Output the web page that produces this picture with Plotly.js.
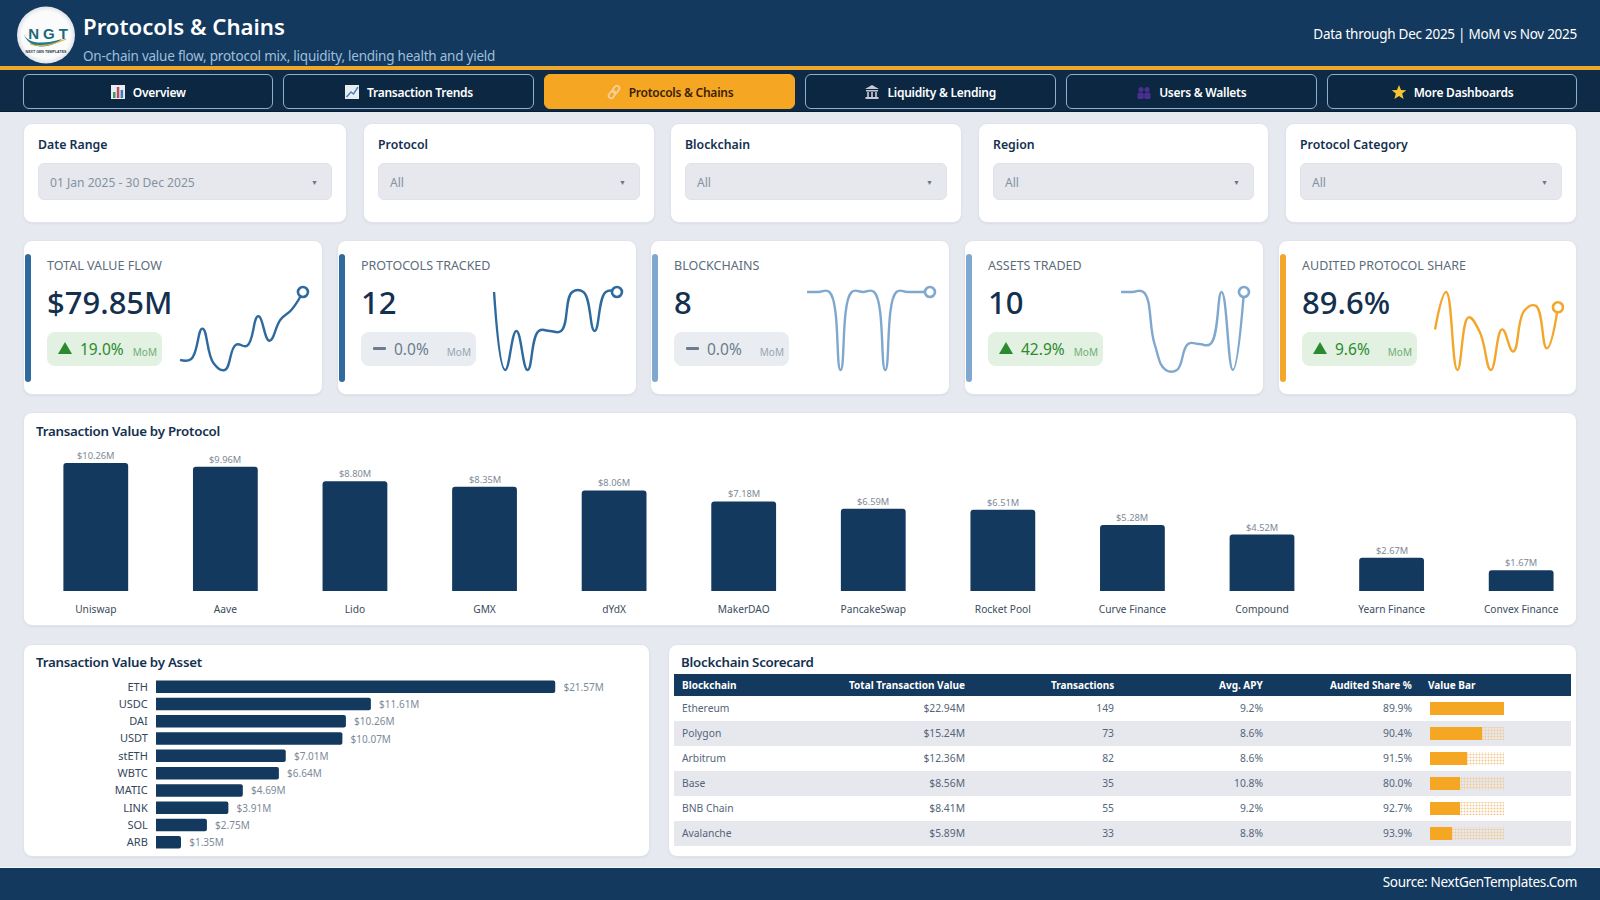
<!DOCTYPE html>
<html><head><meta charset="utf-8">
<script src="https://cdn.plot.ly/plotly-3.0.1.min.js"></script>
<style>
*{box-sizing:border-box}
html,body{margin:0;padding:0;width:1600px;height:900px;overflow:hidden;background:#e6e9ef;font-family:"Noto Sans",sans-serif;color:#14304f}
.abs{position:absolute}
.card{position:absolute;background:#fff;border-radius:9px;border:1px solid #e0e4ea;box-shadow:0 1px 2px rgba(20,50,80,.06)}
.nav{position:absolute;top:74px;height:35px;border:1.5px solid #8fb0cf;border-radius:6px;background:#0c2742;color:#fff;font-size:12px;letter-spacing:-.25px;font-weight:600;display:flex;align-items:center;justify-content:center;gap:7px;padding-top:1px}
.nav.on{background:#f5a623;border-color:#f5a623;color:#3a2208}
.nav svg{width:16px;height:16px}
.flab{position:absolute;font-size:12.3px;font-weight:600;left:14px;top:12px;color:#14304f}
.sel{position:absolute;left:14px;right:14px;top:39px;height:37px;background:#e6e8ee;border:1px solid #dfe2e8;border-radius:6px;color:#8592a0;font-size:12.1px;line-height:37px;padding-left:11px}
.sel i{position:absolute;right:13px;top:0;font-style:normal;font-size:7px;color:#6a7785}
.ctitle{position:absolute;font-size:13.3px;letter-spacing:-.25px;font-weight:600;color:#14304f;white-space:nowrap}
.klab{position:absolute;left:23px;top:16px;font-size:12.5px;color:#5d6c7b;white-space:nowrap}
.kval{position:absolute;left:23px;top:37px;font-size:31px;font-weight:500;color:#14304f;white-space:nowrap;line-height:48px}
.pill{position:absolute;left:23px;top:91px;width:115px;height:34px;border-radius:8px}
.pill .tri{position:absolute;left:11px;top:10px;width:0;height:0;border-left:7.5px solid transparent;border-right:7.5px solid transparent;border-bottom:12px solid #2c8a2e}
.pill .dash{position:absolute;left:12px;top:15px;width:13px;height:3px;background:#6c7c8c;border-radius:1px}
.pill .pct{position:absolute;left:33px;top:5px;font-size:15.5px;line-height:24px;white-space:nowrap}
.pill .mom{position:absolute;right:5px;top:13px;font-size:10px;line-height:14px}
.plot{position:absolute}
</style></head><body>
<div class="abs" style="left:0;top:0;width:1600px;height:67px;background:#14395e"></div>
<div class="abs" style="left:0;top:66px;width:1600px;height:4px;background:#eda72c"></div>
<div class="abs" style="left:0;top:70px;width:1600px;height:42px;background:#0e2a46;border-bottom:1px solid #0a1d30"></div>
<svg class="abs" style="left:16px;top:6px" width="60" height="58" viewBox="0 0 60 58">
<defs><radialGradient id="lg" cx=".5" cy=".5" r=".55"><stop offset=".75" stop-color="#fbfbfb"/><stop offset="1" stop-color="#cfd5dc"/></radialGradient></defs>
<ellipse cx="30" cy="29" rx="29" ry="28.5" fill="url(#lg)"/>
<text x="34" y="33" text-anchor="middle" font-size="15" font-weight="800" font-family="Liberation Sans" letter-spacing="4" fill="#1a6a7a">NGT</text>
<path d="M7 26 C10 38 26 39 46 33 C34 43 12 45 7 26Z" fill="#1b7f8c"/><path d="M14 38 C26 42 38 38 50 33" stroke="#e4ac3b" stroke-width="1.2" fill="none"/>
<text x="30" y="47" text-anchor="middle" font-size="3.6" font-weight="700" font-family="Liberation Sans" fill="#2a3a4a">NEXT GEN TEMPLATES</text></svg>
<div class="abs" style="left:83px;top:8px;font-size:22.2px;font-weight:600;color:#fff;white-space:nowrap;line-height:38px">Protocols &amp; Chains</div>
<div class="abs" style="left:83px;top:46px;font-size:13.5px;letter-spacing:-.23px;color:#9cbfdc;white-space:nowrap;line-height:20px">On-chain value flow, protocol mix, liquidity, lending health and yield</div>
<div class="abs" style="right:23px;top:23px;font-size:13.5px;letter-spacing:-.26px;color:#fff;white-space:nowrap;line-height:22px">Data through Dec 2025 | MoM vs Nov 2025</div>
<div id="navs"></div><div id="filters"></div><div id="kpis"></div>
<div class="card" style="left:23px;top:412px;width:1554px;height:214px"></div>
<div class="ctitle" style="left:36px;top:422px">Transaction Value by Protocol</div>
<div class="plot" id="protocolChart" style="left:24px;top:436px;width:1552px;height:188px"></div>
<div class="card" style="left:23px;top:644px;width:627px;height:213px"></div>
<div class="ctitle" style="left:36px;top:653px">Transaction Value by Asset</div>
<div class="plot" id="assetChart" style="left:25px;top:670px;width:622px;height:186px"></div>
<div class="card" style="left:668px;top:644px;width:909px;height:213px"></div>
<div class="ctitle" style="left:681px;top:653px">Blockchain Scorecard</div>
<div class="plot" id="scoreTable" style="left:674px;top:674px;width:897px;height:173px"></div>
<div class="plot" id="valueBars" style="left:1430px;top:696px;width:75px;height:150px"></div>
<div class="abs" style="left:0;top:867px;width:1600px;height:33px;background:#14395e;border-top:1px solid #f4f6f8"></div>
<div class="abs" style="right:23px;top:870px;font-size:13.5px;letter-spacing:-.32px;color:#fff;line-height:24px;white-space:nowrap">Source: NextGenTemplates.Com</div>
<script>
// ---- chart data ----
const navLabels=["Overview","Transaction Trends","Protocols & Chains","Liquidity & Lending","Users & Wallets","More Dashboards"];
const filterLabels=["Date Range","Protocol","Blockchain","Region","Protocol Category"];
const filterValues=["01 Jan 2025 - 30 Dec 2025","All","All","All","All"];
const kpiLabels=["TOTAL VALUE FLOW","PROTOCOLS TRACKED","BLOCKCHAINS","ASSETS TRADED","AUDITED PROTOCOL SHARE"];
const kpiValues=["$79.85M","12","8","10","89.6%"];
const kpiDeltas=["19.0%","0.0%","0.0%","42.9%","9.6%"];
const sparkValue=[4.32,4.42,7.57,3.97,3.27,5.89,5.79,8.86,6.31,8.51,9.56,11.37];
const sparkProtocols=[12,8,10,8,10,10,10,12,12,10,12,12];
const sparkChains=[8,8,8,7,8,8,8,7,8,8,8,8];
const sparkAssets=[10,10,10,8,7,7,8,8,8,10,7,10];
const sparkAudited=[85.4,92.5,77.7,87.7,84.9,77.7,85.4,81.2,89.0,89.9,81.8,89.6];
const protocols=["Uniswap","Aave","Lido","GMX","dYdX","MakerDAO","PancakeSwap","Rocket Pool","Curve Finance","Compound","Yearn Finance","Convex Finance"];
const protocolValues=[10.26,9.96,8.80,8.35,8.06,7.18,6.59,6.51,5.28,4.52,2.67,1.67];
const assets=["ETH","USDC","DAI","USDT","stETH","WBTC","MATIC","LINK","SOL","ARB"];
const assetValues=[21.57,11.61,10.26,10.07,7.01,6.64,4.69,3.91,2.75,1.35];
const tableHeaders=["Blockchain","Total Transaction Value","Transactions","Avg. APY","Audited Share %","Value Bar"];
const chains=["Ethereum","Polygon","Arbitrum","Base","BNB Chain","Avalanche"];
const chainValues=[22.94,15.24,12.36,8.56,8.41,5.89];
const chainTx=[149,73,82,35,55,33];
const chainApy=[9.2,8.6,8.6,10.8,9.2,8.8];
const chainAudited=[89.9,90.4,91.5,80.0,92.7,93.9];
const valueBarFill=[100,70,50,40,40,30];
// ---- styling ----
const FONT='"Noto Sans",sans-serif',NAVY='#14395e',GOLD='#f5a623',BLUE='#2e6a9e',LIGHT='#7fa8cf';
const money=v=>'$'+v.toFixed(2)+'M';
const cfg={staticPlot:true,displayModeBar:false};
const icons=[
'<rect x="1" y="1" width="14" height="14" fill="#e8edf2"/><rect x="3" y="8" width="2.5" height="6" fill="#3c9a5f"/><rect x="6.8" y="3" width="2.5" height="11" fill="#c8455a"/><rect x="10.6" y="6" width="2.5" height="8" fill="#3a7cc0"/>',
'<rect x="1" y="1" width="14" height="14" fill="#e8edf2"/><path d="M2.5 13 L7 8 L9.5 10 L14 3" stroke="#4a7fc0" stroke-width="1.4" fill="none"/>',
'<g fill="none" stroke="#f6cf9a" stroke-width="1.8"><rect x="7.5" y="1.5" width="5" height="8" rx="2.5" transform="rotate(35 10 5.5)"/><rect x="3.5" y="6.5" width="5" height="8" rx="2.5" transform="rotate(35 6 10.5)"/></g>',
'<path d="M8 1 L15 5 H1Z M2 6H14V7.5H2Z M1.5 13H14.5V15H1.5Z" fill="#c5cad3"/><rect x="3" y="8" width="2" height="5" fill="#aab"/><rect x="7" y="8" width="2" height="5" fill="#aab"/><rect x="11" y="8" width="2" height="5" fill="#aab"/>',
'<g fill="#4a2f8f"><circle cx="5" cy="5.5" r="2.6"/><circle cx="11" cy="5.5" r="2.6"/><rect x="1.5" y="8.5" width="6.2" height="6.5" rx="1.5"/><rect x="8.3" y="8.5" width="6.2" height="6.5" rx="1.5"/></g>',
'<path d="M8 1 L10 6 L15.3 6.3 L11.2 9.6 L12.6 15 L8 12 L3.4 15 L4.8 9.6 L0.7 6.3 L6 6Z" fill="#f7c531"/>'];
const navX=[22.5,283,544,805,1066,1327];
document.getElementById('navs').innerHTML=navLabels.map((t,i)=>`<div class="nav${i==2?' on':''}" style="left:${navX[i]}px;width:${i==0||i==3||i==4?250.5:i==5?250:251}px"><svg viewBox="0 0 16 16">${icons[i]}</svg><span>${t.replace('&','&amp;')}</span></div>`).join('');
const fBox=[[23,324],[363,292],[670,292],[978,291],[1285,292]];
document.getElementById('filters').innerHTML=filterLabels.map((t,i)=>`<div class="card" style="left:${fBox[i][0]}px;top:123px;width:${fBox[i][1]}px;height:100px"><div class="flab">${t}</div><div class="sel">${filterValues[i]}<i>▼</i></div></div>`).join('');
const kX=[24,338,651,965,1279],kW=[298,298,298,298,297];
const kColor=[BLUE,BLUE,LIGHT,LIGHT,'#f2a72c'];
const kSpark=[sparkValue,sparkProtocols,sparkChains,sparkAssets,sparkAudited];
document.getElementById('kpis').innerHTML=kpiLabels.map((t,i)=>{const up=kpiDeltas[i]!=='0.0%';
return `<div class="card" style="left:${kX[i]-1}px;top:240px;width:${kW[i]+2}px;height:155px"><div class="abs" style="left:1px;top:13px;width:6px;height:128px;border-radius:3px;background:${kColor[i]}"></div><div class="klab">${t}</div><div class="kval">${kpiValues[i]}</div><div class="pill" style="background:${up?'#e2f1e2':'#e9edf1'}"><div class="${up?'tri':'dash'}"></div><div class="pct" style="color:${up?'#2c8a2e':'#6c7c8c'}">${kpiDeltas[i]}</div><div class="mom" style="color:${up?'#6fae72':'#98a4b0'}">MoM</div></div></div><div class="plot" id="spark${i}" style="left:${kX[i]+142}px;top:278px;width:151px;height:107px"></div>`}).join('');
kSpark.forEach((vals,i)=>{
 const xs=vals.map((_,j)=>j), lo=Math.min(...vals), hi=Math.max(...vals), span=hi-lo, xu=122.5/11;
 Plotly.newPlot('spark'+i,[
  {x:xs,y:vals,type:'scatter',mode:'lines',line:{shape:'spline',smoothing:1.3,color:kColor[i],width:2.4}},
  {x:[xs[xs.length-1]],y:[vals[vals.length-1]],type:'scatter',mode:'markers',marker:{size:10,color:'#fff',line:{color:kColor[i],width:2.6}}}
 ],{width:151,height:107,margin:{l:0,r:0,t:0,b:0},showlegend:false,paper_bgcolor:'rgba(0,0,0,0)',plot_bgcolor:'rgba(0,0,0,0)',
  xaxis:{visible:false,range:[-14/xu,11+14/xu]},yaxis:{visible:false,range:[lo-span*15/78,hi+span*14/78]}},cfg);
});
Plotly.newPlot('protocolChart',[{type:'bar',x:protocols,y:protocolValues,marker:{color:NAVY},width:.5,hoverinfo:'skip'}],
 {width:1552,height:188,margin:{l:7,r:3,t:9,b:33},barcornerradius:3,paper_bgcolor:'rgba(0,0,0,0)',plot_bgcolor:'rgba(0,0,0,0)',font:{family:FONT},
 annotations:protocols.map((p,i)=>({x:p,y:protocolValues[i],xref:'x',yref:'y',text:money(protocolValues[i]),showarrow:false,yanchor:'bottom',yshift:-1,font:{size:9.3,color:'#7d8a98',family:FONT}})),
 xaxis:{type:'category',range:[-0.5,11.4],showline:false,showgrid:false,zeroline:false,ticks:'outside',ticklen:9,tickcolor:'rgba(0,0,0,0)',tickfont:{size:10.2,color:'#3a4c5e'}},
 yaxis:{range:[0,11.7],visible:false}},cfg);
Plotly.newPlot('assetChart',[{type:'bar',orientation:'h',y:assets,x:assetValues,text:assetValues.map(v=>'\u00a0\u00a0'+money(v)),textposition:'outside',constraintext:'none',cliponaxis:false,
 textfont:{size:10,color:'#7d8a98',family:FONT},marker:{color:NAVY},hoverinfo:'skip'}],
 {width:622,height:186,margin:{l:130.6,r:7,t:7.6,b:5},bargap:.28,barcornerradius:2,paper_bgcolor:'rgba(0,0,0,0)',plot_bgcolor:'rgba(0,0,0,0)',font:{family:FONT},
 yaxis:{type:'category',autorange:false,range:[9.5,-0.5],showline:false,showgrid:false,zeroline:false,ticks:'outside',ticklen:5,tickcolor:'rgba(0,0,0,0)',tickfont:{size:11,color:'#33475b'}},
 xaxis:{range:[0,26.15],visible:false}},cfg);
Plotly.newPlot('valueBars',[
 {type:'bar',orientation:'h',y:chains,x:valueBarFill,marker:{color:GOLD},hoverinfo:'skip'},
 {type:'bar',orientation:'h',y:chains,x:valueBarFill.map(v=>100-v),marker:{color:'#fcf1e2',pattern:{shape:'.',fgcolor:'#f3c891',size:3,solidity:.35}},hoverinfo:'skip'}],
 {width:75,height:150,margin:{l:0,r:0.7,t:0,b:0},barmode:'stack',bargap:.47,showlegend:false,paper_bgcolor:'rgba(0,0,0,0)',plot_bgcolor:'rgba(0,0,0,0)',
 xaxis:{range:[0,100],visible:false},yaxis:{type:'category',autorange:false,range:[5.5,-0.5],visible:false}},cfg);
// Table: the header band and its labels are a layout shape and annotations so the band can be thinner than a table header row.
const rowFill=chains.map((_,i)=>i%2?'#e6e8ee':'#ffffff');
const colW=[150,149,149,149,149,151], colAlign=['left','right','right','right','right','left'], tW=897, tH=173, hdrH=22;
let edge=0; const colEdges=colW.map(w=>{const e=[edge,edge+w];edge+=w;return e});
const tableTrace={type:'table',columnwidth:colW,columnorder:[0,1,2,3,4,5],
 header:{values:tableHeaders.map(()=>' '),align:colAlign,height:hdrH,line:{width:0,color:NAVY},fill:{color:NAVY},font:{family:FONT,size:1,color:NAVY}},
 cells:{values:[chains,chainValues.map(money),chainTx,chainApy.map(v=>v.toFixed(1)+'%'),chainAudited.map(v=>v.toFixed(1)+'%'),chains.map(()=>' ')],
  align:colAlign,height:25,fill:{color:[rowFill]},line:{width:0,color:'#fff'},font:{family:FONT,size:10.3,color:'#55657a'}}};
Plotly.newPlot('scoreTable',[tableTrace],
 {width:tW,height:tH,margin:{l:0,r:0,t:0,b:0},paper_bgcolor:'rgba(0,0,0,0)',
 shapes:[{type:'rect',xref:'paper',yref:'paper',x0:0,x1:1,y0:1-hdrH/tH,y1:1,fillcolor:NAVY,line:{width:0}}],
 annotations:tableHeaders.map((t,i)=>({xref:'paper',yref:'paper',showarrow:false,y:1-hdrH/2/tH,yanchor:'middle',
  x:colAlign[i]==='left'?(colEdges[i][0]+8)/tW:(colEdges[i][1]-8)/tW,xshift:colAlign[i]==='left'?-2:2,xanchor:colAlign[i],text:'<b>'+t+'</b>',font:{family:FONT,size:10,color:'#fff'}}))},cfg);
</script></body></html>
